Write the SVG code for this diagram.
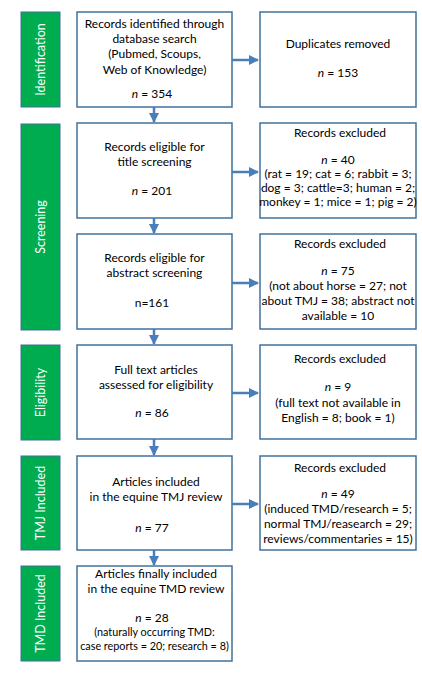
<svg xmlns="http://www.w3.org/2000/svg" width="422" height="675" viewBox="0 0 422 675">
<defs>
<marker id="ah" viewBox="0 0 10 10" refX="9" refY="5" markerWidth="4" markerHeight="4" orient="auto" markerUnits="strokeWidth">
<path d="M0,0 L10,5 L0,10 z" fill="#4A7EBB"/>
</marker>
<style>
.box{fill:#fff;stroke:#41719C;stroke-width:1.5}
.stage{fill:#00AC50;stroke:#41719C;stroke-width:1}
.lbl{fill:#fff;font-family:Lato,"Open Sans",sans-serif;font-size:12.5px;text-anchor:middle}
.t{fill:#000;font-family:Lato,"Open Sans",sans-serif;font-size:12px;text-anchor:middle}
.s{font-size:10.8px}
.c{stroke:#4A7EBB;stroke-width:2.5;fill:none;marker-end:url(#ah)}
</style>
</defs>
<rect width="422" height="675" fill="#fff"/>
<g id="stage-identification"><rect class="stage" x="21" y="12" width="39" height="95"/><text class="lbl" transform="translate(45,59.5) rotate(-90)">Identification</text></g>
<g id="stage-screening"><rect class="stage" x="21" y="124" width="39" height="206"/><text class="lbl" transform="translate(45,227) rotate(-90)">Screening</text></g>
<g id="stage-eligibility"><rect class="stage" x="21" y="345" width="39" height="95"/><text class="lbl" transform="translate(45,392.5) rotate(-90)">Eligibility</text></g>
<g id="stage-tmj"><rect class="stage" x="21" y="456" width="39" height="94"/><text class="lbl" transform="translate(45,503) rotate(-90)">TMJ Included</text></g>
<g id="stage-tmd"><rect class="stage" x="21" y="566" width="39" height="95"/><text class="lbl" transform="translate(45,613.5) rotate(-90)">TMD Included</text></g>

<g id="n1"><rect class="box" x="77" y="12" width="155" height="95"/>
<text class="t" x="154.5" y="28">Records identified through</text>
<text class="t" x="154.5" y="43">database search</text>
<text class="t" x="154.5" y="58">(Pubmed, Scoups,</text>
<text class="t" x="154.5" y="74">Web of Knowledge)</text>
<text class="t" x="152" y="98"><tspan font-style="italic">n</tspan> = 354</text></g>
<g id="n1r"><rect class="box" x="260" y="12" width="156" height="95"/>
<text class="t" x="338" y="48">Duplicates removed</text>
<text class="t" x="338" y="77"><tspan font-style="italic">n</tspan> = 153</text></g>

<g id="n2"><rect class="box" x="77" y="123" width="155" height="95"/>
<text class="t" x="154.5" y="151">Records eligible for</text>
<text class="t" x="154.5" y="166">title screening</text>
<text class="t" x="152" y="195"><tspan font-style="italic">n</tspan> = 201</text></g>
<g id="n2r"><rect class="box" x="260" y="123" width="156" height="95"/>
<text class="t" x="340" y="137">Records excluded</text>
<text class="t" x="338" y="164"><tspan font-style="italic">n</tspan> = 40</text>
<text class="t" x="338" y="177.5">(rat = 19; cat = 6; rabbit = 3;</text>
<text class="t" x="338" y="192">dog = 3; cattle=3; human = 2;</text>
<text class="t" x="338" y="206">monkey = 1; mice = 1; pig = 2)</text></g>

<g id="n3"><rect class="box" x="77" y="234" width="155" height="95"/>
<text class="t" x="154.5" y="262">Records eligible for</text>
<text class="t" x="154.5" y="277">abstract screening</text>
<text class="t" x="152" y="307">n=161</text></g>
<g id="n3r"><rect class="box" x="260" y="234" width="156" height="95"/>
<text class="t" x="340" y="248">Records excluded</text>
<text class="t" x="338" y="275"><tspan font-style="italic">n</tspan> = 75</text>
<text class="t" x="338" y="290">(not about horse = 27; not</text>
<text class="t" x="338" y="305">about TMJ = 38; abstract not</text>
<text class="t" x="338" y="320">available = 10</text></g>

<g id="n4"><rect class="box" x="77" y="345" width="155" height="94"/>
<text class="t" x="156" y="374">Full text articles</text>
<text class="t" x="156" y="388.5">assessed for eligibility</text>
<text class="t" x="152" y="416.5"><tspan font-style="italic">n</tspan> = 86</text></g>
<g id="n4r"><rect class="box" x="260" y="345" width="156" height="94"/>
<text class="t" x="340" y="362.5">Records excluded</text>
<text class="t" x="338" y="391"><tspan font-style="italic">n</tspan> = 9</text>
<text class="t" x="338" y="406.5">(full text not available in</text>
<text class="t" x="338" y="421.5">English = 8; book = 1)</text></g>

<g id="n5"><rect class="box" x="77" y="456" width="155" height="94"/>
<text class="t" x="156" y="486">Articles included</text>
<text class="t" x="156" y="501">in the equine TMJ review</text>
<text class="t" x="152" y="532"><tspan font-style="italic">n</tspan> = 77</text></g>
<g id="n5r"><rect class="box" x="260" y="456" width="156" height="94"/>
<text class="t" x="340" y="471.5">Records excluded</text>
<text class="t" x="338" y="497.5"><tspan font-style="italic">n</tspan> = 49</text>
<text class="t" x="338" y="513">(induced TMD/research = 5;</text>
<text class="t" x="338" y="528">normal TMJ/reasearch = 29;</text>
<text class="t" x="338" y="543">reviews/commentaries = 15)</text></g>

<g id="n6"><rect class="box" x="77" y="566" width="155" height="95"/>
<text class="t" x="156" y="578">Articles finally included</text>
<text class="t" x="156" y="593">in the equine TMD review</text>
<text class="t" x="152" y="621.5"><tspan font-style="italic">n</tspan> = 28</text>
<text class="t s" x="154.5" y="636">(naturally occurring TMD:</text>
<text class="t s" x="154.5" y="650">case reports = 20; research = 8)</text></g>

<g id="connectors">
<line class="c" x1="232" y1="60" x2="258" y2="60"/>
<line class="c" x1="232" y1="172" x2="258" y2="172"/>
<line class="c" x1="232" y1="283" x2="258" y2="283"/>
<line class="c" x1="232" y1="393" x2="258" y2="393"/>
<line class="c" x1="232" y1="504" x2="258" y2="504"/>
<line class="c" x1="154" y1="107" x2="154" y2="122"/>
<line class="c" x1="154" y1="218" x2="154" y2="233"/>
<line class="c" x1="154" y1="329" x2="154" y2="344"/>
<line class="c" x1="154" y1="439" x2="154" y2="455"/>
<line class="c" x1="154" y1="550" x2="154" y2="565"/>
</g>
</svg>
